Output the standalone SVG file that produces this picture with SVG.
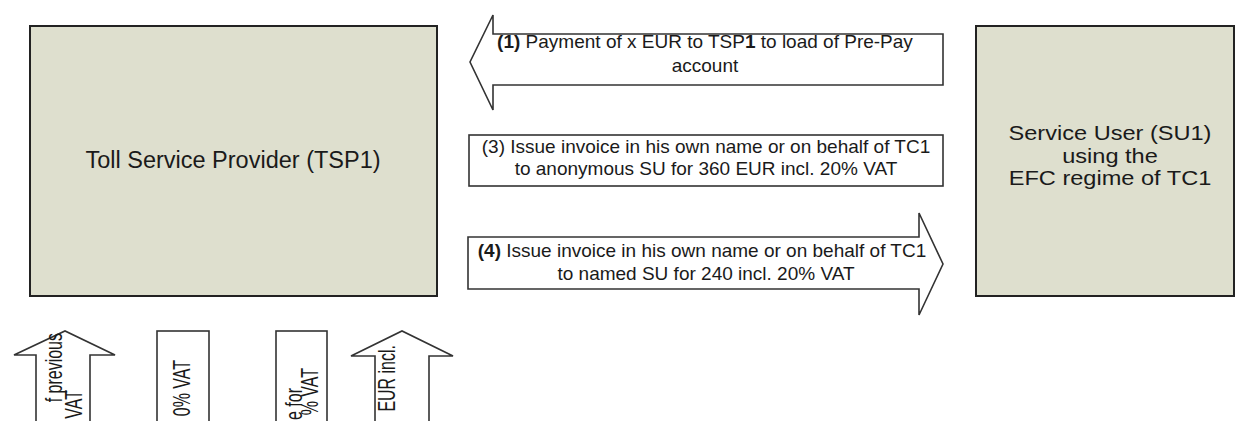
<svg xmlns="http://www.w3.org/2000/svg" width="1236" height="421" viewBox="0 0 1236 421">
<style>
.box{fill:#dedfce;stroke:#222;stroke-width:2}
.arr{fill:#fff;stroke:#333;stroke-width:1.6}
text{font-family:"Liberation Sans",Arial,sans-serif;fill:#1a1a1a}
.big{font-size:23.5px}
.su{font-size:20.5px}
.lbl{font-size:19px}
.rot{font-size:16px}
</style>
<rect width="1236" height="421" fill="#fff"/>
<g id="tsp1">
<rect class="box" x="30" y="26" width="407" height="270"/>
<text class="big" x="233" y="168" text-anchor="middle">Toll Service Provider (TSP1)</text>
</g>
<g id="su1">
<rect class="box" x="976" y="26" width="258" height="270"/>
<text class="su" text-anchor="middle" transform="translate(1110,0) scale(1.15,1)"><tspan x="0" y="140">Service User (SU1)</tspan><tspan x="0" y="163">using the</tspan><tspan x="0" y="185">EFC regime of TC1</tspan></text>
</g>
<g id="connectors">
<g id="flow1">
<path class="arr" d="M943,34 L493,34 L493,15 L470,62 L493,110 L493,85 L943,85 Z"/>
<text class="lbl" text-anchor="middle"><tspan x="705" y="48"><tspan font-weight="bold">(1)</tspan> Payment of x EUR to TSP<tspan font-weight="bold">1</tspan> to load of Pre-Pay</tspan><tspan x="705" y="72">account</tspan></text>
</g>
<g id="flow3">
<rect class="arr" x="469" y="135" width="474" height="51"/>
<text class="lbl" text-anchor="middle"><tspan x="706" y="153">(3) Issue invoice in his own name or on behalf of TC1</tspan><tspan x="706" y="175">to anonymous SU for 360 EUR incl. 20% VAT</tspan></text>
</g>
<g id="flow4">
<path class="arr" d="M468,237 L919,237 L919,213 L943,264 L919,315 L919,289 L468,289 Z"/>
<text class="lbl" text-anchor="middle"><tspan x="702" y="257"><tspan font-weight="bold">(4)</tspan> Issue invoice in his own name or on behalf of TC1</tspan><tspan x="706" y="280">to named SU for 240 incl. 20% VAT</tspan></text>
</g>
<g id="flowA">
<path class="arr" d="M36,430 V355 H14 L65,331 L115,355 H90 V430 Z"/>
<text class="rot" text-anchor="end" transform="translate(62,333) rotate(-90) scale(1,1.45)">f previous</text>
<text class="rot" text-anchor="end" transform="translate(82,390) rotate(-90) scale(1,1.45)">VAT</text>
</g>
<g id="flowB">
<rect class="arr" x="157" y="331" width="52" height="100"/>
<text class="rot" text-anchor="end" transform="translate(190,360) rotate(-90) scale(1,1.45)">0% VAT</text>
</g>
<g id="flowC">
<rect class="arr" x="276" y="331" width="51" height="100"/>
<text class="rot" text-anchor="end" transform="translate(302,388) rotate(-90) scale(1,1.45)">e for</text>
<text class="rot" text-anchor="end" transform="translate(318,368) rotate(-90) scale(1,1.45)">% VAT</text>
</g>
<g id="flowD">
<path class="arr" d="M375,430 V356 H351 L402,331 L453,356 H429 V430 Z"/>
<text class="rot" text-anchor="end" transform="translate(395,345) rotate(-90) scale(1,1.45)">EUR incl.</text>
</g>
</g>
</svg>
